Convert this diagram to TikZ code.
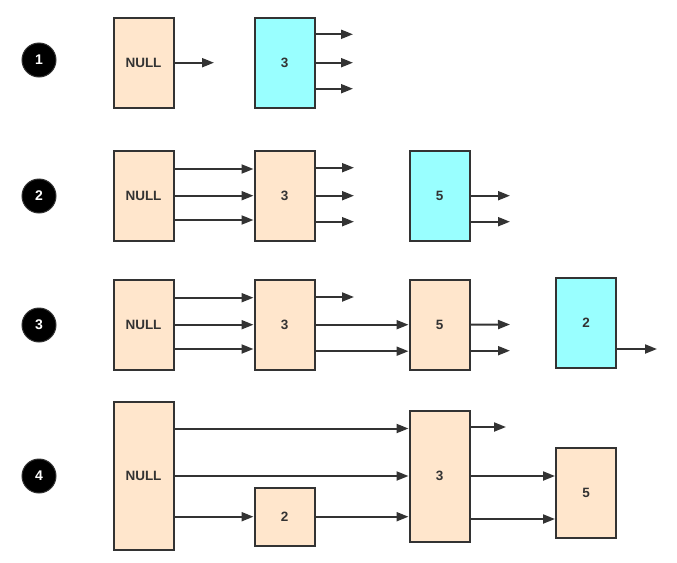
\documentclass[tikz,border=0pt]{standalone}
\usepackage{fontspec}
\setmainfont{Liberation Sans}
\usetikzlibrary{arrows.meta}
\definecolor{peach}{HTML}{FFE6CC}
\definecolor{aqua}{HTML}{99FFFF}
\definecolor{ink}{HTML}{333333}

\begin{document}
\begin{tikzpicture}[x=1pt, y=-1pt,
    cell/.style={draw=ink, line width=2pt, fill=peach, minimum width=60pt,
      minimum height=90pt, inner sep=0pt, text=ink,
      font=\bfseries\fontsize{13.5}{15}\selectfont},
    newcell/.style={cell, fill=aqua},
    stepnum/.style={circle, fill=black, draw=ink, line width=1pt,
      minimum size=34pt, inner sep=0pt, text=white,
      font=\bfseries\fontsize{14}{15}\selectfont},
    link/.style={draw=ink, line width=2pt, -{Triangle[length=12pt,width=9pt]}}]
  \useasboundingbox (0,0) rectangle (677,562);
  % step 1 - empty list, insert 3
  \node[stepnum] (s1) at (39,60) {1};
  \node[cell] (null1) at (143.5,62.7) {NULL};
  \node[newcell] (a1) at (284.5,62.7) {3};
  \coordinate (o1) at (214,62.7);
  \coordinate (o1t) at (353,34.3);
  \coordinate (o1m) at (353,62.7);
  \coordinate (o1b) at (353,88.7);
  \draw[link] (null1.east) -- (o1);
  \draw[link] (a1.east |- o1t) -- (o1t);
  \draw[link] (a1.east) -- (o1m);
  \draw[link] (a1.east |- o1b) -- (o1b);
  % step 2 - insert 5
  \node[stepnum] (s2) at (39,196) {2};
  \node[cell] (null2) at (143.5,195.7) {NULL};
  \node[cell] (a2) at (284.5,195.7) {3};
  \node[newcell] (b2) at (439.5,195.7) {5};
  \draw[link] ([yshift=26.7]null2.east) -- ([yshift=26.7]a2.west);
  \draw[link] (null2.east) -- (a2.west);
  \draw[link] ([yshift=-24.3]null2.east) -- ([yshift=-24.3]a2.west);
  \coordinate (o2t) at (354,167.7);
  \coordinate (o2m) at (354,195.7);
  \coordinate (o2b) at (354,221.7);
  \draw[link] (a2.east |- o2t) -- (o2t);
  \draw[link] (a2.east) -- (o2m);
  \draw[link] (a2.east |- o2b) -- (o2b);
  \coordinate (p2m) at (510,195.7);
  \coordinate (p2b) at (510,221.7);
  \draw[link] (b2.east) -- (p2m);
  \draw[link] (b2.east |- p2b) -- (p2b);
  % step 3 - insert 2
  \node[stepnum] (s3) at (39,325) {3};
  \node[cell] (null3) at (143.5,324.7) {NULL};
  \node[cell] (a3) at (284.5,324.7) {3};
  \node[cell] (b3) at (439.5,324.7) {5};
  \node[newcell] (c3) at (586,322.8) {2};
  \draw[link] ([yshift=27]null3.east) -- ([yshift=27]a3.west);
  \draw[link] (null3.east) -- (a3.west);
  \draw[link] ([yshift=-24.3]null3.east) -- ([yshift=-24.3]a3.west);
  \coordinate (o3t) at (354,297);
  \draw[link] (a3.east |- o3t) -- (o3t);
  \draw[link] (a3.east) -- (b3.west);
  \draw[link] ([yshift=-26.5]a3.east) -- ([yshift=-26.5]b3.west);
  \coordinate (p3m) at (510,324.5);
  \coordinate (p3b) at (510,350.7);
  \draw[link] (b3.east) -- (p3m);
  \draw[link] (b3.east |- p3b) -- (p3b);
  \coordinate (q3) at (657,349);
  \draw[link] (c3.east |- q3) -- (q3);
  % step 4 - result
  \node[stepnum] (s4) at (39,476) {4};
  \node[cell, minimum height=148pt] (null4) at (143.5,476) {NULL};
  \node[cell, minimum height=58pt] (c4) at (284.5,516.7) {2};
  \node[cell, minimum height=131pt] (a4) at (439.5,476) {3};
  \node[cell] (b4) at (586,493) {5};
  \draw[link] ([yshift=47.5]null4.east) -- ([yshift=47.5]a4.west);
  \draw[link] (null4.east) -- (a4.west);
  \draw[link] (null4.east |- c4.west) -- (c4.west);
  \draw[link] (c4.east) -- (c4.east -| a4.west);
  \coordinate (o4t) at (506,427);
  \draw[link] (a4.east |- o4t) -- (o4t);
  \draw[link] (a4.east) -- (a4.east -| b4.west);
  \draw[link] ([yshift=-43]a4.east) -- ([yshift=-43]a4.east -| b4.west);
\end{tikzpicture}
\end{document}
